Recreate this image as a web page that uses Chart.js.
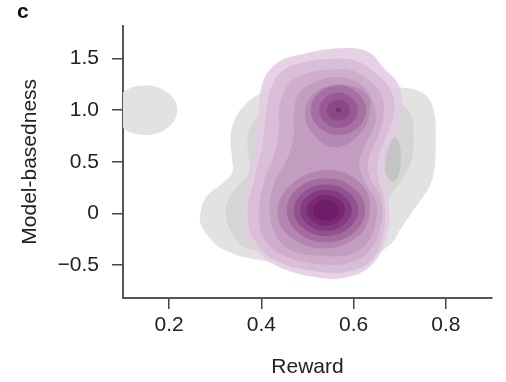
<!DOCTYPE html>
<html>
<head>
<meta charset="utf-8">
<script src="https://cdn.jsdelivr.net/npm/chart.js@4.4.0/dist/chart.umd.min.js"></script>
<style>
  html, body { margin: 0; padding: 0; background: #fff; }
</style>
</head>
<body>
<canvas id="kdeChart" width="506" height="382"></canvas>
<script>
// axis ticks
const xTicks = [0.2, 0.4, 0.6, 0.8];
const xTickLabels = ['0.2', '0.4', '0.6', '0.8'];
const yTicks = [-0.5, 0, 0.5, 1, 1.5];
const yTickLabels = ['\u22120.5', '0', '0.5', '1.0', '1.5'];

// grey density contours (reward, model-basedness); each outline is a closed loop
const grayBlob = [[0.218,1.0],[0.197,1.17],[0.148,1.24],[0.099,1.17],[0.078,1.0],[0.099,0.83],[0.148,0.76],[0.197,0.83]];
const grayOuter = [[0.267,-0.02],[0.275,0.12],[0.289,0.20],[0.315,0.29],[0.337,0.40],[0.336,0.55],[0.333,0.70],[0.339,0.87],[0.36,1.03],[0.398,1.16],[0.45,1.22],[0.55,1.24],[0.65,1.23],[0.702,1.22],[0.739,1.19],[0.765,1.10],[0.776,0.94],[0.778,0.70],[0.776,0.46],[0.768,0.30],[0.752,0.17],[0.725,0.0],[0.702,-0.15],[0.68,-0.30],[0.62,-0.45],[0.50,-0.50],[0.37,-0.43],[0.31,-0.33],[0.289,-0.24],[0.27,-0.12]];
const grayInner = [[0.322,0.01],[0.33,0.15],[0.35,0.27],[0.372,0.39],[0.372,0.55],[0.37,0.72],[0.38,0.87],[0.41,1.0],[0.5,1.06],[0.62,1.07],[0.70,1.06],[0.725,0.95],[0.73,0.75],[0.728,0.56],[0.715,0.40],[0.70,0.30],[0.675,0.15],[0.65,-0.05],[0.60,-0.28],[0.50,-0.36],[0.37,-0.34],[0.335,-0.18]];
const grayCore = [[0.702,0.52],[0.70,0.66],[0.688,0.74],[0.672,0.68],[0.664,0.52],[0.67,0.38],[0.685,0.31],[0.698,0.38]];

// purple density contours, outer to inner
const purple1 = [[0.572,1.60],[0.63,1.57],[0.665,1.41],[0.698,1.24],[0.705,1.0],[0.69,0.78],[0.672,0.58],[0.668,0.38],[0.676,0.12],[0.674,-0.18],[0.645,-0.47],[0.593,-0.61],[0.521,-0.62],[0.426,-0.49],[0.376,-0.27],[0.361,-0.02],[0.372,0.33],[0.387,0.65],[0.394,0.97],[0.404,1.28],[0.435,1.46],[0.485,1.54]];
const purple2 = [[0.57,1.50],[0.61,1.47],[0.645,1.37],[0.68,1.2],[0.688,1.0],[0.672,0.76],[0.655,0.56],[0.652,0.36],[0.667,0.12],[0.665,-0.18],[0.64,-0.45],[0.592,-0.56],[0.522,-0.565],[0.432,-0.46],[0.385,-0.26],[0.37,0.0],[0.385,0.33],[0.402,0.65],[0.41,0.95],[0.42,1.2],[0.445,1.38],[0.49,1.46]];
const purple3 = [[0.57,1.40],[0.60,1.38],[0.63,1.30],[0.66,1.15],[0.665,0.95],[0.65,0.72],[0.632,0.52],[0.636,0.34],[0.66,0.13],[0.658,-0.13],[0.635,-0.36],[0.59,-0.48],[0.525,-0.49],[0.45,-0.41],[0.405,-0.24],[0.395,0.0],[0.405,0.30],[0.428,0.58],[0.438,0.80],[0.44,1.05],[0.46,1.26],[0.50,1.36]];
const purple4 = [[0.57,1.32],[0.615,1.25],[0.64,1.10],[0.648,0.90],[0.628,0.68],[0.612,0.50],[0.625,0.30],[0.648,0.12],[0.648,-0.08],[0.63,-0.28],[0.59,-0.40],[0.53,-0.41],[0.465,-0.36],[0.43,-0.2],[0.418,0.02],[0.428,0.30],[0.455,0.52],[0.47,0.75],[0.47,0.95],[0.48,1.15],[0.515,1.27]];
const purple5Up = [[0.635,1.0],[0.628,1.16],[0.575,1.25],[0.52,1.18],[0.495,1.0],[0.51,0.78],[0.56,0.64],[0.615,0.78]];
const purple5Lo = [[0.635,0.03],[0.618,0.28],[0.55,0.42],[0.47,0.30],[0.435,0.03],[0.46,-0.22],[0.535,-0.34],[0.61,-0.22]];
const purple6Up = [[0.627,1.0],[0.609,1.168],[0.567,1.24],[0.525,1.168],[0.507,1.0],[0.525,0.832],[0.567,0.76],[0.609,0.832]];
const purple6Lo = [[0.625,0.03],[0.6,0.247],[0.54,0.34],[0.48,0.247],[0.455,0.03],[0.48,-0.187],[0.54,-0.28],[0.6,-0.187]];
const purple7Up = [[0.609,1.0],[0.596,1.119],[0.567,1.17],[0.538,1.119],[0.525,1.0],[0.538,0.881],[0.567,0.83],[0.596,0.881]];
const purple7Lo = [[0.61,0.03],[0.589,0.205],[0.54,0.28],[0.491,0.205],[0.47,0.03],[0.491,-0.145],[0.54,-0.22],[0.589,-0.145]];
const purple8Up = [[0.592,1.0],[0.585,1.07],[0.567,1.1],[0.549,1.07],[0.542,1.0],[0.549,0.93],[0.567,0.9],[0.585,0.93]];
const purple8Lo = [[0.596,0.03],[0.579,0.17],[0.54,0.23],[0.501,0.17],[0.484,0.03],[0.501,-0.11],[0.54,-0.17],[0.579,-0.11]];
const purple9Up = [[0.573,1.0],[0.571,1.018],[0.567,1.025],[0.563,1.018],[0.561,1.0],[0.563,0.982],[0.567,0.975],[0.571,0.982]];
const purple9Lo = [[0.582,0.03],[0.569,0.135],[0.54,0.18],[0.511,0.135],[0.498,0.03],[0.511,-0.075],[0.54,-0.12],[0.569,-0.075]];
const purple10Lo = [[0.568,0.03],[0.56,0.1],[0.54,0.13],[0.52,0.1],[0.512,0.03],[0.52,-0.04],[0.54,-0.07],[0.56,-0.04]];

// back to front
const layers = [
  [grayBlob, '#e2e2e2'],
  [grayOuter, '#e2e2e2'],
  [grayInner, '#d5d5d5'],
  [grayCore, '#c4c4c4'],
  [purple1, 'rgba(226,203,225,0.88)'],
  [purple2, 'rgba(216,188,214,0.88)'],
  [purple3, 'rgba(205,172,203,0.88)'],
  [purple4, 'rgba(192,155,190,0.88)'],
  [purple5Up, 'rgba(178,135,176,0.88)'],
  [purple5Lo, 'rgba(176,130,173,0.88)'],
  [purple6Up, 'rgba(163,110,160,0.9)'],
  [purple6Lo, 'rgba(160,105,157,0.9)'],
  [purple7Up, 'rgba(150,88,146,0.9)'],
  [purple7Lo, 'rgba(145,80,141,0.9)'],
  [purple8Up, 'rgba(138,70,134,0.9)'],
  [purple8Lo, 'rgba(131,58,126,0.9)'],
  [purple9Up, 'rgba(120,45,115,0.9)'],
  [purple9Lo, 'rgba(120,40,114,0.92)'],
  [purple10Lo, 'rgba(110,28,104,0.95)']
];

const datasets = layers.map(([pts, color], i) => ({
  data: pts.map(([x, y]) => ({ x, y })),
  showLine: true,
  fill: 'shape',
  backgroundColor: color,
  borderWidth: 0,
  pointRadius: 0,
  tension: 0.4,
  order: layers.length - i
}));

// make every contour a closed smooth loop (same as the radar chart does)
const closedLoops = {
  id: 'closedLoops',
  afterDatasetUpdate(chart, args) {
    const line = args.meta.dataset;
    if (line) {
      line._loop = true;
      line._fullLoop = true;
    }
  }
};

// the "c" panel letter
const panelLabel = {
  id: 'panelLabel',
  afterDraw(chart) {
    const c = chart.ctx;
    c.save();
    c.font = 'bold 21px "Liberation Sans", Arial, sans-serif';
    c.fillStyle = '#111';
    c.fillText('c', 17, 18);
    c.restore();
  }
};

const font = { family: '"Liberation Sans", Arial, sans-serif', size: 21 };

const ctx = document.getElementById('kdeChart').getContext('2d');
new Chart(ctx, {
  type: 'scatter',
  data: { datasets },
  plugins: [closedLoops, panelLabel],
  options: {
    responsive: false,
    animation: false,
    layout: { padding: { top: 20, right: 14, left: 0, bottom: 0 } },
    plugins: { legend: { display: false }, tooltip: { enabled: false } },
    scales: {
      x: {
        min: 0.1,
        max: 0.9,
        afterBuildTicks: s => { s.ticks = xTicks.map(v => ({ value: v })); },
        afterFit: s => { s.height = 84; },
        ticks: { font, color: '#222', padding: 4, callback: v => xTickLabels[xTicks.indexOf(v)] },
        grid: { drawOnChartArea: false, tickLength: 11, color: '#444', lineWidth: 1.5 },
        border: { color: '#555', width: 2 },
        title: { display: true, text: 'Reward', font, color: '#222', padding: { top: 0, bottom: 2 } }
      },
      y: {
        min: -0.82,
        max: 1.82,
        afterBuildTicks: s => { s.ticks = yTicks.map(v => ({ value: v })); },
        afterFit: s => { s.width = 123; },
        ticks: { font, color: '#222', padding: 13, callback: v => yTickLabels[yTicks.indexOf(v)] },
        grid: { drawOnChartArea: false, tickLength: 11, color: '#444', lineWidth: 1.5 },
        border: { color: '#555', width: 2 },
        title: { display: true, text: 'Model-basedness', font, color: '#222', padding: { top: 18, bottom: 0 } }
      }
    }
  }
});
</script>
</body>
</html>
